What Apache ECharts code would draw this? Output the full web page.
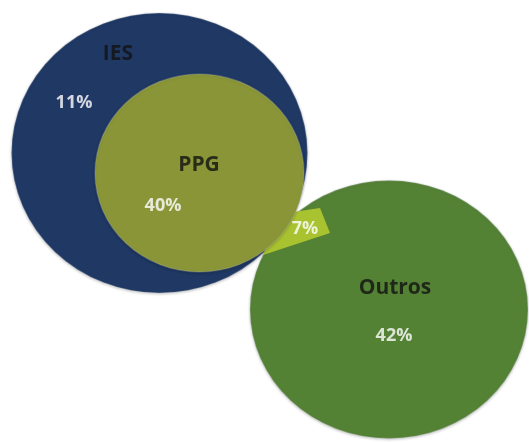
<!DOCTYPE html>
<html>
<head>
<meta charset="utf-8">
<script src="https://cdn.jsdelivr.net/npm/echarts@6/dist/echarts.min.js"></script>
<style>
  html, body {margin: 0; padding: 0; background: #fff;}
  #chart {width: 529px; height: 442px;}
</style>
</head>
<body>
<div id="chart"></div>
<script>
// dados
var setNames = ['IES', 'PPG', 'Outros'];
var setValues = [11, 40, 42];
var overlapName = 'PPG ∩ Outros';
var overlapValue = 7;

// layout do diagrama (px na tela): centro, tamanho [w, h]
var setLayout = [
    {center: [159.5, 153], size: [296, 280], name: [118, 54], value: [74, 103], color: '#1f3864'},
    {center: [199.5, 173], size: [209, 198], name: [199, 165], value: [163, 206], color: '#899537'},
    {center: [389, 309.5], size: [278, 258], name: [395, 288], value: [394, 336], color: '#548235'}
];
var overlapLayout = {center: [296.5, 231.5], size: [67, 47], value: [305, 229], color: '#a9c22f'};

var chart = echarts.init(document.getElementById('chart'));

var font = '"Open Sans", "DejaVu Sans", sans-serif';

var circleSeries = function (i, z) {
    var l = setLayout[i];
    return {
        name: setNames[i], type: 'scatter', z: z, silent: true,
        symbol: 'circle', symbolSize: l.size,
        itemStyle: {
            color: l.color, opacity: 1,
            borderColor: 'rgba(200,205,210,0.22)', borderWidth: 1.5,
            shadowColor: 'rgba(0,0,0,0.25)', shadowBlur: 3, shadowOffsetY: 1
        },
        data: [l.center]
    };
};

var textSeries = function (texts, positions, color, size) {
    return {
        type: 'scatter', z: 10, silent: true, symbolSize: 0,
        label: {
            show: true, position: 'inside', formatter: '{b}',
            color: color, fontSize: size, fontWeight: 'bold', fontFamily: font
        },
        data: texts.map(function (t, i) {
            return {name: t, value: positions[i]};
        })
    };
};

chart.setOption({
    animation: false,
    grid: {left: 0, right: 0, top: 0, bottom: 0},
    xAxis: {type: 'value', min: 0, max: 529, show: false},
    yAxis: {type: 'value', min: 0, max: 442, inverse: true, show: false},
    series: [
        circleSeries(0, 1),
        circleSeries(2, 2),
        {
            name: overlapName, type: 'scatter', z: 3, silent: true,
            symbol: 'path://M0,47 L67,25 L57,0 L17,6 Z',
            symbolSize: overlapLayout.size,
            itemStyle: {color: overlapLayout.color, opacity: 1},
            data: [overlapLayout.center]
        },
        circleSeries(1, 4),
        textSeries(setNames, setLayout.map(function (l) { return l.name; }), '#111', 21),
        textSeries(setValues.map(function (v) { return v + '%'; }),
            setLayout.map(function (l) { return l.value; }), '#fff', 18),
        textSeries([overlapValue + '%'], [overlapLayout.value], '#fff', 18)
    ]
});
</script>
</body>
</html>
